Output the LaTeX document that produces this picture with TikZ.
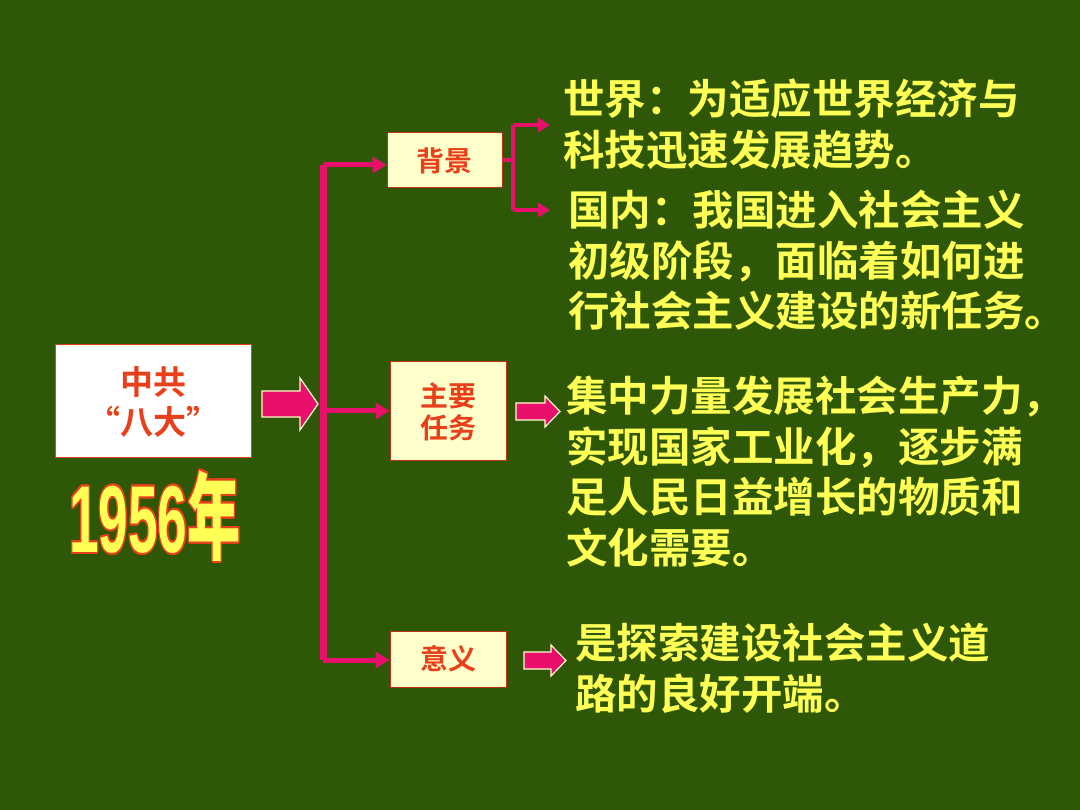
\documentclass[tikz,border=0pt]{standalone}
\usepackage{fontspec}
\setmainfont{Liberation Sans}
\newfontfamily\cjk{Noto Sans CJK SC Bold}
\usepackage{contour}
\contourlength{2pt}
\usetikzlibrary{arrows.meta}
\definecolor{bg}{HTML}{2E5807}
\definecolor{pk}{HTML}{E8106A}
\definecolor{yl}{HTML}{FFFF55}
\definecolor{rd}{HTML}{E8401A}
\definecolor{cream}{HTML}{FFFFCC}
\tikzset{
  lbl/.style={draw=rd!80!black,line width=1pt,fill=cream,text=rd,font=\cjk\fontsize{28}{32}\selectfont,align=center,inner sep=0pt},
  body/.style={anchor=north west,text=yl,font=\cjk\fontsize{41.5}{50.5}\selectfont,align=left,inner sep=0pt},
  blk/.style={fill=pk,draw=cream,line width=1.2pt,line join=miter},
  con/.style={pk,line width=7pt},
  arr/.style={pk,line width=5pt,-{Triangle[length=14pt,width=16pt]}}
}
\begin{document}
\begin{tikzpicture}[x=1pt,y=-1pt]
\fill[bg] (0,0) rectangle (1080,810);
\useasboundingbox (0,0) rectangle (1080,810);
% main box
\node[draw=rd,line width=1pt,fill=white,minimum width=196pt,minimum height=113pt,text=rd,font=\cjk\fontsize{33}{40}\selectfont,align=center] (zg) at (153,401.5) {中共\\“八大”};
\coordinate (a0) at (262,391);
\draw[blk] (a0) -- ++(38,0) -- ++(0,-13) -- ++(18,26) -- ++(-18,26) -- ++(0,-13) -- ++(-38,0) -- cycle;
% year
\node[font=\bfseries\fontsize{95}{95}\selectfont,xscale=0.56,inner sep=0pt] (yr) at (155,517) {\contour{rd}{\textcolor{yl}{1956\cjk 年}}};
% category boxes
\node[lbl,minimum width=115pt,minimum height=55pt] (bj) at (444.5,160.5) {背景};
\node[lbl,minimum width=116pt,minimum height=99pt] (zy) at (448,411.5) {主要\\任务};
\node[lbl,minimum width=116pt,minimum height=56pt] (yy) at (448,659) {意义};
% trunk
\coordinate (t1) at (323,165);
\coordinate (t2) at (323,411);
\coordinate (t3) at (323,660);
\draw[con] (t1) -- (t3);
\draw[arr] (t1) -- (bj.west |- t1);
\draw[arr] (t2) -- (zy.west |- t2);
\draw[arr] (t3) -- (yy.west |- t3);
% bracket
\coordinate (b0) at (513,160);
\coordinate (b1) at (513,125);
\coordinate (b2) at (513,210);
\coordinate (e1) at (550,125);
\coordinate (e2) at (550,210);
\draw[pk,line width=4pt] (bj.east |- b0) -- (b0);
\draw[pk,line width=4pt] (b1) -- (b2);
\draw[pk,line width=4pt,-{Triangle[length=12pt,width=14pt]}] (b1) -- (e1);
\draw[pk,line width=4pt,-{Triangle[length=12pt,width=14pt]}] (b2) -- (e2);
% small block arrows
\coordinate (a1) at (516,403);
\draw[blk] (a1) -- ++(29,0) -- ++(0,-7) -- ++(15,15.5) -- ++(-15,15.5) -- ++(0,-7) -- ++(-29,0) -- cycle;
\coordinate (a2) at (524,652);
\draw[blk] (a2) -- ++(27,0) -- ++(0,-7) -- ++(15,15.5) -- ++(-15,15.5) -- ++(0,-7) -- ++(-27,0) -- cycle;
% texts
\node[body] (w) at (563,79) {世界：为适应世界经济与\\科技迅速发展趋势。};
\node[body] (g) at (568,190) {国内：我国进入社会主义\\初级阶段，面临着如何进\\行社会主义建设的新任务。};
\node[body] (j) at (566,376) {集中力量发展社会生产力，\\实现国家工业化，逐步满\\足人民日益增长的物质和\\文化需要。};
\node[body] (s) at (575,623) {是探索建设社会主义道\\路的良好开端。};
\end{tikzpicture}
\end{document}
